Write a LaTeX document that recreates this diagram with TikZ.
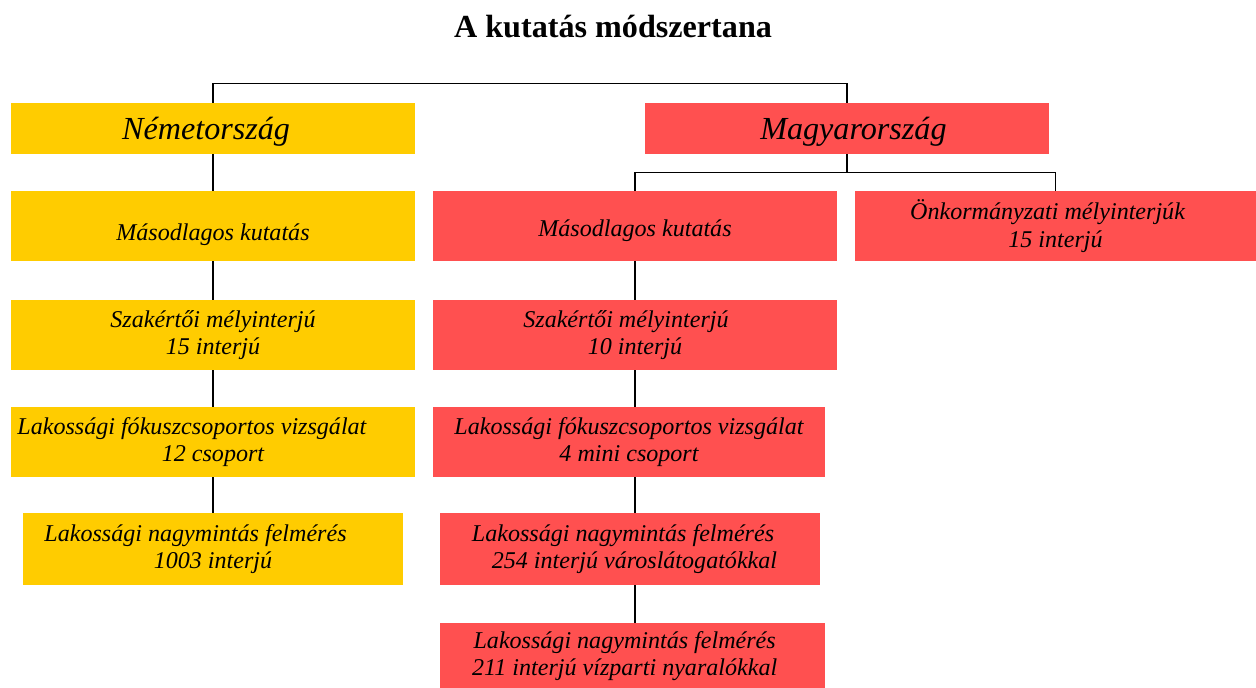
\documentclass[tikz,border=0pt]{standalone}
\usepackage{fontspec}
\setmainfont{Liberation Serif}
\usepackage{tikz}
\usetikzlibrary{positioning, calc}

\definecolor{deyellow}{HTML}{FFCC00}
\definecolor{hured}{HTML}{FF5050}

\begin{document}
\begin{tikzpicture}[
    x=0.02cm, y=-0.02cm,
    country/.style={rectangle, minimum width=8.08cm, minimum height=1.02cm, inner sep=0pt, align=center, font=\fontsize{18.3}{20}\selectfont\itshape},
    boxde/.style={rectangle, fill=deyellow, inner sep=0pt, align=center, font=\fontsize{13.7}{15.5}\selectfont\itshape},
    boxhu/.style={rectangle, fill=hured, inner sep=0pt, align=center, font=\fontsize{13.7}{15.5}\selectfont\itshape},
    conn/.style={line width=0.6pt, black}
]
    \useasboundingbox (0,0) rectangle (1256,688);

    % Title
    \node[font=\fontsize{18.3}{20}\selectfont\bfseries] (title) at (613,27) {A kutatás módszertana};

    % Countries
    \node[country, fill=deyellow] (nemet) at (213,128.5) {\raisebox{-6.5pt}[0pt][0pt]{\hspace*{-0.43em}Németország}};
    \node[country, fill=hured] (magyar) at (847,128.5) {\raisebox{-6.5pt}[0pt][0pt]{\hspace*{0.4em}Magyarország}};

    % Germany
    \node[boxde, minimum width=8.08cm, minimum height=1.4cm] (nm1) at (213,226) {\raisebox{-8pt}[0pt][0pt]{Másodlagos kutatás}};
    \node[boxde, minimum width=8.08cm, minimum height=1.4cm] (nm2) at (213,335) {Szakértői mélyinterjú\\15 interjú};
    \node[boxde, minimum width=8.08cm, minimum height=1.4cm] (nm3) at (213,442) {\hspace*{-1.75em}Lakossági fókuszcsoportos vizsgálat\\12 csoport};
    \node[boxde, minimum width=7.6cm, minimum height=1.44cm] (nm4) at (213,549) {\hspace*{-1.45em}Lakossági nagymintás felmérés\\1003 interjú};

    % Hungary
    \node[boxhu, minimum width=8.08cm, minimum height=1.4cm] (hu1) at (635,226) {\raisebox{-6pt}[0pt][0pt]{Másodlagos kutatás}};
    \node[boxhu, minimum width=8.02cm, minimum height=1.4cm] (onk) at (1055.5,226) {\hspace*{-0.66em}Önkormányzati mélyinterjúk\\15 interjú};
    \node[boxhu, minimum width=8.08cm, minimum height=1.4cm] (hu2) at (635,335) {\hspace*{-0.75em}Szakértői mélyinterjú\\10 interjú};
    \node[boxhu, minimum width=7.84cm, minimum height=1.4cm] (hu3) at (629,442) {Lakossági fókuszcsoportos vizsgálat\\4 mini csoport};
    \node[boxhu, minimum width=7.6cm, minimum height=1.44cm] (hu4) at (630,549) {\hspace*{-0.58em}Lakossági nagymintás felmérés\\\hspace*{0.37em}254 interjú városlátogatókkal};
    \node[boxhu, minimum width=7.7cm, minimum height=1.32cm] (hu5) at (632.5,656) {\hspace*{-0.65em}Lakossági nagymintás felmérés\\\hspace*{-0.65em}211 interjú vízparti nyaralókkal};

    % Top level
    \draw[conn] (nemet.north) -- ++(0,-19) -| (magyar.north);

    % Germany chain
    \draw[conn] (nemet.south) -- (nm1.north);
    \draw[conn] (nm1.south) -- (nm2.north);
    \draw[conn] (nm2.south) -- (nm3.north);
    \draw[conn] (nm3.south) -- (nm4.north);

    % Hungary branches
    \draw[conn] (magyar.south) -- ++(0,18) coordinate (hub);
    \draw[conn] (hu1.north) |- (hub) -| (onk.north);
    \draw[conn] (hu1.south) -- (hu2.north);
    \draw[conn] (hu2.south) -- (hu2.south |- hu3.north);
    \draw[conn] (hu2.south |- hu3.south) -- (hu2.south |- hu4.north);
    \draw[conn] (hu2.south |- hu4.south) -- (hu2.south |- hu5.north);
\end{tikzpicture}
\end{document}
